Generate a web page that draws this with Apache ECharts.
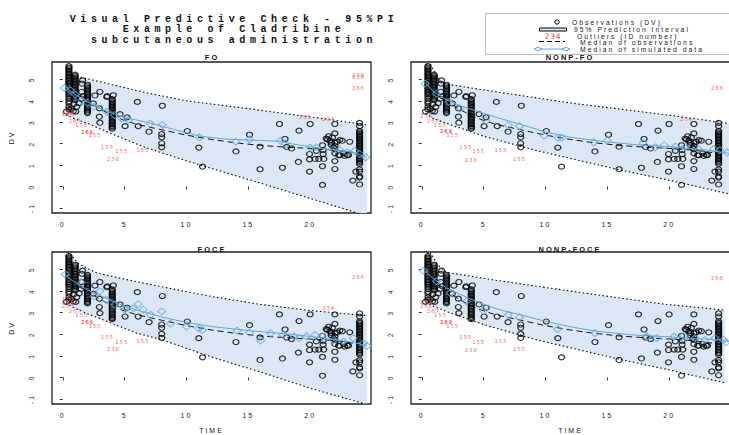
<!DOCTYPE html>
<html>
<head>
<meta charset="utf-8">
<script src="https://cdn.jsdelivr.net/npm/echarts@6/dist/echarts.min.js"></script>
<style>
  html, body { margin: 0; padding: 0; background: #fff; }
  #chart { width: 729px; height: 435px; }
  /* R's PNG output spreads its glyphs out, svg text lets us copy that */
  #chart text { letter-spacing: 2px; }
  #chart text[style*="Mono"] { letter-spacing: 4.6px; }
  #chart text[style*="DejaVu"] { letter-spacing: 0.8px; }
</style>
</head>
<body>
<div id="chart"></div>
<script>
const mainTitle = ['Visual Predictive Check - 95%PI', 'Example of Cladribine', 'subcutaneous administration'];
const panelNames = ['FO', 'NONP-FO', 'FOCE', 'NONP-FOCE'];
const xTickValues = [0, 5, 10, 15, 20];
const yTickValues = [-1, 0, 1, 2, 3, 4, 5];

// observed DV, same in every panel
const observations = [
  [0.5,5.62],[0.5,5.55],[0.5,5.48],[0.5,5.41],[0.5,5.34],[0.5,5.27],[0.5,5.2],[0.5,5.13],[0.5,5.06],[0.5,4.99],
  [0.5,4.92],[0.5,4.85],[0.5,4.78],[0.5,4.71],[0.5,4.64],[0.5,4.57],[0.5,4.5],[0.5,4.43],[0.5,4.36],[0.5,4.29],
  [0.5,4.2],[0.5,4.1],[0.5,3.98],[0.5,3.88],[0.5,3.72],[0.5,3.6],
  [0.3,3.5],[0.7,3.62],[0.85,3.52],[1.05,3.5],[0.9,3.85],
  [1,5.22],[1,5.15],[1,5.08],[1,5.01],[1,4.94],[1,4.87],[1,4.8],[1,4.73],[1,4.66],[1,4.59],
  [1,4.52],[1,4.45],[1,4.38],[1,4.31],[1,4.24],[1,4.17],[1,4.1],[1,4.03],
  [2,4.75],[2,4.68],[2,4.61],[2,4.54],[2,4.47],[2,4.4],[2,4.33],[2,4.26],[2,4.19],[2,4.12],
  [2,4.05],[2,3.98],[2,3.91],[2,3.84],[2,3.77],[2,3.7],[2,3.63],[2,3.56],[2,3.49],[2,3.43],
  [4,4.08],[4,4.01],[4,3.94],[4,3.87],[4,3.8],[4,3.73],[4,3.66],[4,3.59],[4,3.52],[4,3.45],
  [4,3.38],[4,3.31],[4,3.24],[4,3.17],[4,3.1],[4,3.03],[4,2.96],[4,2.89],[4,2.82],[4,2.75],[4,2.7],
  [1.6,4.95],[1.55,4.8],[1.53,4.42],[1.67,4.22],[1.5,4.1],[1.13,3.72],[1.32,3.89],[2.47,3.88],[2.6,4.25],
  [3.0,4.42],[2.96,3.65],[2.96,3.26],[3.0,2.98],[3.56,4.18],[3.6,4.22],[4.09,4.26],[4.63,3.38],[5.2,3.23],
  [5.04,2.82],[6.03,3.95],[6.1,2.82],[6.98,2.56],[8.05,3.77],[8,2.45],[8,2.3],[8,2.02],[8,1.83],
  [10.07,2.59],[11,1.82],[11.3,0.93],[14,1.64],[15.1,2.42],[15.95,1.86],[15.95,0.81],
  [17.52,2.92],[17.97,2.22],[18.1,1.85],[18.5,1.78],[17.76,0.88],[19.1,2.61],[19.05,1.15],
  [20,2.92],[19.95,1.52],[19.95,1.27],[19.95,0.7],[20.5,1.67],[20.4,1.29],[20.7,1.29],[21.1,1.29],
  [21.05,1.52],[21.05,1.7],[21,1.93],[21,0.95],[21,0.08],[21.3,2.24],[21.4,2.2],[21.5,2.35],
  [21.6,2.14],[21.8,2.3],[21.7,2.05],[21.7,1.95],[21.9,1.8],[22,2.48],[22,2.05],[22,1.89],[22,1.74],
  [22,1.55],[22,1.19],[22,0.82],[22,2.92],[22.2,2.09],[22.4,2.17],[22.6,2.14],[22.3,1.47],[22.4,1.47],
  [22.7,1.55],[22.8,1.43],[23.1,1.47],[23.2,2.09],[23,1.47],[23.45,0.28],[23.7,0.7],
  [24,2.97],[24,2.82],[24,2.6],[24,2.53],[24,2.46],[24,2.39],[24,2.32],[24,2.25],[24,2.18],[24,2.11],
  [24,2.04],[24,1.97],[24,1.9],[24,1.83],[24,1.76],[24,1.69],[24,1.62],[24,1.55],[24,1.48],[24,1.41],
  [24,1.34],[24,1.27],[24,1.2],[24,1.13],[24,1.06],[24,0.8],[24,0.7],[24,0.47],[24,0.42],[24,0.1]
];

const medianObs = [
  [0.5,4.6],[1,4.4],[2,4.0],[3,3.62],[4,3.32],[5,3.08],[6,2.9],[8,2.65],[10,2.4],[12,2.2],
  [14,2.04],[16,1.92],[18,1.84],[20,1.78],[22,1.7],[24,1.55]
];

// FO
const foUpper = [[0.25,4.85],[0.5,5.2],[1,5.15],[2,5.03],[4,4.75],[6.8,4.37],[10,4.0],[15.7,3.58],[20,3.25],[24.6,2.88]];
const foLower = [[0.25,3.35],[1,3.15],[2,2.95],[4,2.45],[6.65,1.83],[10,1.2],[16,0.16],[20,-0.55],[24,-1.26],[24.6,-1.4]];
const foMedSim = [[0.25,4.65],[0.5,4.5],[1,4.3],[2,3.95],[3,3.65],[4,3.42],[5,3.22],[6.65,3.02],[8,2.82],[11,2.36],
  [13,2.22],[16,2.15],[17.5,2.12],[18.5,2.0],[20,1.85],[22,1.7],[23.5,1.6],[24.6,1.35]];
const foSimPoints = [[0.13,4.6],[0.6,4.5],[1,4.3],[1.54,4.02],[2,3.9],[2.5,3.72],[3.56,3.5],[4.2,3.33],[4.77,3.17],
  [5.3,3.1],[7.06,2.94],[8.06,2.88],[11.05,2.3],[14,2.09],[15.1,2.2],[17.6,2.14],[18,2.0],[20,1.82],[20.5,1.83],
  [21.9,1.73],[22.4,1.7],[23,1.6],[23.6,1.67],[24,1.52],[24.5,1.36]];
const foOutliers = [[0.45,3.49,'238'],[0.45,3.38,'266'],[1,3.07,'267'],[1.53,2.87,'155'],[1.99,2.56,'262'],[1.99,2.56,'266'],
  [2.6,2.4,'155'],[3.6,1.83,'155'],[4.77,1.64,'155'],[4.1,1.29,'238'],[6.47,1.72,'155'],[19.6,3.25,'155'],
  [21.5,3.17,'234'],[23.9,5.22,'238'],[23.9,5.12,'238'],[23.9,4.6,'266']];

// NONP-FO
const nonpFoUpper = [[0.3,5.5],[0.45,5.85],[0.7,5.7],[1.2,5.2],[1.6,4.85],[2,4.78],[6,4.42],[12,3.9],[20,3.33],[24.92,2.94]];
const nonpFoLower = [[0.3,3.4],[0.95,3.17],[2,2.95],[5,2.35],[9.3,1.68],[16,0.78],[20,0.3],[24.92,-0.35]];
const nonpFoMedSim = [[0.27,4.85],[1,4.4],[2,4.05],[3,3.8],[4,3.6],[5,3.42],[6.5,3.15],[8,2.9],[10,2.55],[12,2.3],
  [14.7,2.1],[17.4,1.95],[20.1,1.86],[22.8,1.72],[24.9,1.55]];
const nonpFoSimPoints = [[0.27,4.8],[1.2,4.33],[2.2,3.95],[3.1,3.64],[5.2,3.07],[7,2.86],[7.9,2.82],[9.9,2.37],[11,2.28],
  [11.3,2.28],[13.9,2.06],[15,2.14],[17.9,2.04],[18.9,1.83],[19.6,1.93],[20.5,1.86],[21.3,1.86],[22.4,1.73],
  [23.6,1.76],[24.1,1.7],[24.7,1.59]];
const nonpFoOutliers = [[0.4,3.3,'238'],[0.94,3.05,'267'],[1.5,2.86,'155'],[2,2.59,'262'],[2,2.59,'266'],[2.5,2.4,'155'],
  [3.56,1.83,'155'],[4.6,1.66,'155'],[6.4,1.7,'155'],[4,1.24,'238'],[7.9,1.28,'155'],[21.4,3.17,'234'],[23.9,4.61,'266']];

// FOCE
const foceUpper = [[0.25,5.6],[0.5,5.82],[0.8,5.6],[1.2,5.3],[2,5.05],[2.75,4.84],[5,4.55],[8,4.2],[12,3.75],[16,3.38],[20,3.1],[24.6,2.86]];
const foceLower = [[0.25,3.45],[1,3.2],[2,2.95],[4,2.5],[6,2.05],[8,1.75],[12,0.95],[16,0.25],[20,-0.5],[24.6,-1.25]];
const foceMedSim = [[0.2,4.8],[0.5,4.6],[1,4.4],[2,4.05],[3,3.8],[4,3.55],[5,3.3],[6,3.12],[8,2.8],[10,2.55],[12,2.36],
  [15,2.17],[18,2.02],[20,1.9],[22,1.75],[23.5,1.62],[24.6,1.48]];
const foceSimPoints = [[0.2,4.77],[1.5,4.4],[2.5,3.76],[3,4.0],[3.5,3.6],[4.2,3.37],[5,3.14],[5.7,3.2],[6.1,3.4],[6.5,3.14],
  [7.1,2.9],[8,3.06],[8.7,2.5],[10,2.36],[11,2.28],[11.3,2.2],[14.1,2.17],[15.1,2.08],[16,1.71],[16.8,2.05],
  [17.8,1.97],[18.7,1.9],[19.1,1.82],[19.7,1.9],[20.4,1.97],[21,1.9],[21.9,1.74],[22.7,1.66],[23.5,1.82],
  [24.3,1.58],[24.6,1.46]];
const foceOutliers = [[0.45,3.64,'155'],[0.45,3.48,'238'],[0.45,3.32,'267'],[1,3.06,'267'],[1.53,2.9,'155'],[1.99,2.59,'262'],
  [1.99,2.59,'266'],[2.6,2.39,'155'],[3.6,1.86,'155'],[4.77,1.66,'155'],[4.1,1.3,'238'],[6.47,1.7,'155'],
  [21.5,3.21,'234'],[23.9,4.64,'266']];

// NONP-FOCE
const nonpFoceUpper = [[0.3,5.6],[0.6,5.85],[0.9,5.6],[1.3,5.2],[2,4.87],[6,4.5],[12,4.0],[19.5,3.4],[24.5,3.12]];
const nonpFoceLower = [[0.3,3.45],[0.67,3.37],[2,3.05],[5,2.45],[9.3,1.74],[16,0.84],[20,0.35],[24.5,-0.25]];
const nonpFoceMedSim = [[0.13,5.0],[0.5,4.8],[1,4.55],[2,4.15],[3,3.88],[4,3.62],[5,3.38],[6.5,3.1],[8,2.9],[10,2.6],
  [12,2.35],[14,2.15],[17,1.97],[20,1.88],[22,1.8],[24,1.75],[24.9,1.65]];
const nonpFoceSimPoints = [[0.13,4.95],[1.2,4.46],[2.3,3.91],[3.6,3.52],[5,3.09],[7,2.9],[7.9,2.78],[11,2.24],[14,2.05],
  [18.2,1.9],[19,1.82],[20.4,1.9],[21.2,1.93],[22.1,1.82],[22.9,1.74],[23.7,1.82],[24.4,1.74],[24.6,1.63]];
const nonpFoceOutliers = [[0.4,3.48,'238'],[0.4,3.32,'262'],[0.94,3.06,'267'],[1.5,2.9,'155'],[2,2.59,'262'],[2,2.59,'266'],
  [2.5,2.39,'155'],[3.56,1.86,'155'],[4.6,1.66,'155'],[6.4,1.68,'155'],[4,1.27,'238'],[7.9,1.32,'155'],[23.9,4.61,'266']];

const panels = [
  { upper: foUpper, lower: foLower, medSim: foMedSim, sim: foSimPoints, outliers: foOutliers },
  { upper: nonpFoUpper, lower: nonpFoLower, medSim: nonpFoMedSim, sim: nonpFoSimPoints, outliers: nonpFoOutliers },
  { upper: foceUpper, lower: foceLower, medSim: foceMedSim, sim: foceSimPoints, outliers: foceOutliers },
  { upper: nonpFoceUpper, lower: nonpFoceLower, medSim: nonpFoceMedSim, sim: nonpFoceSimPoints, outliers: nonpFoceOutliers }
];

const BAND = '#dbe7f4';
const BLUE = '#5fa7dc';
const RED = '#f03c3c';
const SANS = 'Liberation Sans';

const gridBoxes = [
  { left: 52, top: 62, width: 319, height: 151 },
  { left: 411, top: 62, width: 319, height: 151 },
  { left: 52, top: 252, width: 319, height: 152 },
  { left: 411, top: 252, width: 319, height: 152 }
];

function bandSeries(i, upper, lower) {
  return {
    type: 'custom',
    xAxisIndex: i,
    yAxisIndex: i,
    silent: true,
    clip: true,
    z: 1,
    data: [upper[0]],
    renderItem(params, api) {
      const pts = upper.map(p => api.coord(p))
        .concat(lower.slice().reverse().map(p => api.coord(p)));
      const cs = params.coordSys;
      return {
        type: 'polygon',
        shape: { points: pts },
        style: { fill: BAND },
        clipPath: { type: 'rect', shape: { x: cs.x, y: cs.y, width: cs.width, height: cs.height } }
      };
    }
  };
}

function lineSeries(i, data, style, z) {
  return {
    type: 'line', xAxisIndex: i, yAxisIndex: i, data, symbol: 'none', silent: true,
    lineStyle: style, z
  };
}

const series = [];
panels.forEach((p, i) => {
  series.push(bandSeries(i, p.upper, p.lower));
  series.push(lineSeries(i, p.upper, { color: '#000', width: 1.1, type: [1.5, 2.5] }, 2));
  series.push(lineSeries(i, p.lower, { color: '#000', width: 1.1, type: [1.5, 2.5] }, 2));
  series.push({
    type: 'scatter', xAxisIndex: i, yAxisIndex: i, data: observations, silent: true, z: 3,
    symbol: 'circle', symbolSize: [6, 5],
    itemStyle: { color: 'rgba(0,0,0,0)', borderColor: '#000', borderWidth: 1.2 }
  });
  series.push(lineSeries(i, medianObs, { color: '#111', width: 1, type: [6, 4] }, 4));
  series.push(lineSeries(i, p.medSim, { color: BLUE, width: 1 }, 4));
  series.push({
    type: 'scatter', xAxisIndex: i, yAxisIndex: i, data: p.sim, silent: true, z: 5,
    symbol: 'diamond', symbolSize: [8, 7],
    itemStyle: { color: 'rgba(0,0,0,0)', borderColor: BLUE, borderWidth: 1 }
  });
  series.push({
    type: 'scatter', xAxisIndex: i, yAxisIndex: i, data: p.outliers, silent: true, z: 6,
    symbolSize: 1, itemStyle: { color: 'rgba(0,0,0,0)' },
    label: {
      show: true, position: 'inside', formatter: d => d.value[2],
      color: RED, fontSize: 5.5, fontFamily: 'DejaVu Sans'
    }
  });
});

const xAxes = gridBoxes.map((g, i) => ({
  type: 'value', gridIndex: i, min: -0.87, max: 24.92,
  name: i >= 2 ? 'TIME' : '', nameLocation: 'middle', nameGap: 23,
  nameTextStyle: { fontSize: 7, fontFamily: SANS, color: '#222' },
  axisLine: { show: false },
  axisTick: { show: true, length: 3, customValues: xTickValues, lineStyle: { color: '#333' } },
  axisLabel: { customValues: xTickValues, fontSize: 7, fontFamily: SANS, color: '#222', margin: 8 },
  splitLine: { show: false }
}));

const yAxes = gridBoxes.map((g, i) => ({
  type: 'value', gridIndex: i, min: -1.23, max: 5.81,
  name: i % 2 === 0 ? 'DV' : '', nameLocation: 'middle', nameGap: 37,
  nameTextStyle: { fontSize: 7, fontFamily: SANS, color: '#222' },
  axisLine: { show: false },
  axisTick: { show: true, length: 3, customValues: yTickValues, lineStyle: { color: '#333' } },
  axisLabel: { customValues: yTickValues, fontSize: 6.5, fontFamily: SANS, color: '#222', margin: 17, rotate: 90 },
  splitLine: { show: false }
}));

const titleCentres = [[212, 53], [570, 53], [212, 245], [570, 245]];

const legendText = (text, x, y) => ({
  type: 'text', x, y, z: 101,
  style: { text, fontSize: 6.8, fontFamily: SANS, fill: '#222', verticalAlign: 'middle' }
});

const option = {
  animation: false,
  backgroundColor: '#fff',
  title: [
    {
      text: mainTitle.join('\n'), left: 234, top: 14, textAlign: 'center', padding: 0,
      textStyle: { fontFamily: 'Liberation Mono', fontWeight: 'bold', fontSize: 10, lineHeight: 10.5, color: '#111' }
    }
  ].concat(panelNames.map((name, i) => ({
    text: name, left: titleCentres[i][0], top: titleCentres[i][1], textAlign: 'center', padding: 0,
    textStyle: { fontFamily: SANS, fontWeight: 'bold', fontSize: 7.5, color: '#111' }
  }))),
  grid: gridBoxes.map(g => Object.assign({
    show: true, borderColor: '#222', borderWidth: 1.3, backgroundColor: 'rgba(0,0,0,0)',
    containLabel: false, outerBoundsMode: 'none'
  }, g)),
  xAxis: xAxes,
  yAxis: yAxes,
  series,
  graphic: [
    { type: 'rect', z: 100, shape: { x: 485.5, y: 13.5, width: 260, height: 41 }, style: { fill: '#fff', stroke: '#bdbdbd', lineWidth: 1 } },
    { type: 'circle', z: 101, shape: { cx: 557, cy: 22, r: 2.2 }, style: { fill: 'none', stroke: '#000', lineWidth: 1 } },
    legendText('Observations (DV)', 572, 22),
    { type: 'rect', z: 101, shape: { x: 539.5, y: 28, width: 27, height: 3 }, style: { fill: BAND, stroke: '#000', lineWidth: 1 } },
    legendText('95% Prediction Interval', 574, 29.5),
    { type: 'text', x: 553, y: 36, z: 101, style: { text: '234', fontSize: 7.5, fontFamily: 'DejaVu Sans', fill: RED, align: 'center', verticalAlign: 'middle' } },
    legendText('Outliers (ID number)', 577, 36.5),
    { type: 'line', z: 101, shape: { x1: 539, y1: 41.5, x2: 565, y2: 41.5 }, style: { stroke: '#000', lineWidth: 1, lineDash: [5, 3] } },
    legendText('Median of observations', 580, 42.5),
    { type: 'line', z: 101, shape: { x1: 538, y1: 49, x2: 566, y2: 49 }, style: { stroke: BLUE, lineWidth: 1 } },
    { type: 'polygon', z: 101, shape: { points: [[534, 49], [538, 47.2], [542, 49], [538, 50.8]] }, style: { fill: '#fff', stroke: BLUE, lineWidth: 1 } },
    { type: 'polygon', z: 101, shape: { points: [[562, 49], [566, 47.2], [570, 49], [566, 50.8]] }, style: { fill: '#fff', stroke: BLUE, lineWidth: 1 } },
    legendText('Median of simulated data', 580, 49)
  ]
};

const chart = echarts.init(document.getElementById('chart'), null, { renderer: 'svg' });
chart.setOption(option);
</script>
</body>
</html>
